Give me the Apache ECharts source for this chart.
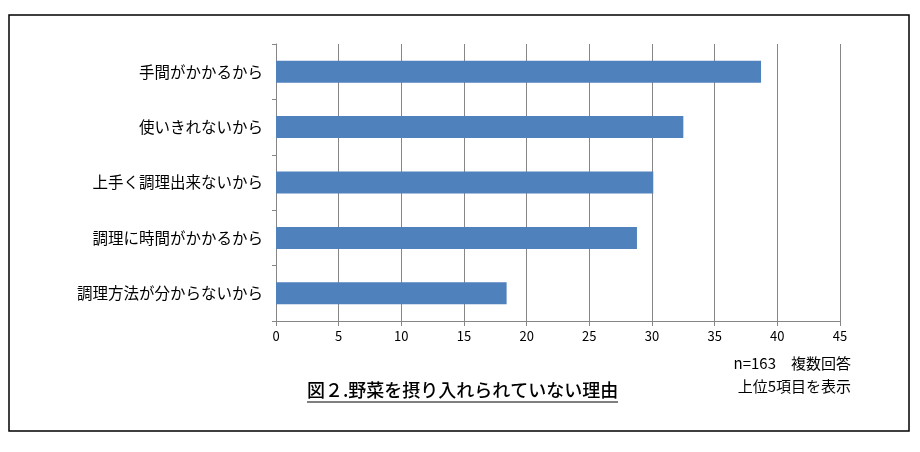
<!DOCTYPE html>
<html>
<head>
<meta charset="utf-8">
<script src="https://cdn.jsdelivr.net/npm/echarts@6/dist/echarts.min.js"></script>
<style>
html,body{margin:0;padding:0;background:#fff;}
#chart{width:920px;height:452px;}
</style>
</head>
<body>
<div id="chart"></div>
<script>
const categories = ['手間がかかるから','使いきれないから','上手く調理出来ないから','調理に時間がかかるから','調理方法が分からないから'];
const values = [38.7, 32.5, 30.1, 28.8, 18.4];
const xTicks = [0,5,10,15,20,25,30,35,40,45];
const titleText = '図２.野菜を摂り入れられていない理由';
const noteLines = ['n=163　複数回答','上位5項目を表示'];

const font = '"Noto Sans CJK JP", sans-serif';
const chart = echarts.init(document.getElementById('chart'), null, {renderer:'canvas'});
chart.setOption({
  animation:false,
  backgroundColor:'#fff',
  grid:{left:276, right:80, top:44, bottom:131, containLabel:false},
  xAxis:{
    type:'value', min:xTicks[0], max:xTicks[xTicks.length-1], interval:5,
    axisLine:{show:true, lineStyle:{color:'#868686', width:1}},
    axisTick:{show:true, length:5, lineStyle:{color:'#868686'}},
    axisLabel:{color:'#000', fontSize:13, fontFamily:font, margin:9},
    splitLine:{show:true, lineStyle:{color:'#868686', width:1}}
  },
  yAxis:{
    type:'category', data:categories, inverse:true,
    axisLine:{show:true, lineStyle:{color:'#868686', width:1}},
    axisTick:{show:true, length:4, lineStyle:{color:'#868686'}},
    axisLabel:{color:'#000', fontSize:15.5, fontFamily:font, margin:13}
  },
  series:[{
    type:'bar', data:values, barWidth:22,
    itemStyle:{color:'#4f81bd'}
  }],
  graphic:[
    {type:'rect', shape:{x:9, y:15, width:900, height:416}, style:{fill:null, stroke:'#000', lineWidth:1.5}, z:100},
    {type:'text', left:307, top:381, style:{text:titleText, font:'500 18px "Noto Sans CJK JP", sans-serif', fill:'#000'}},
    {type:'line', shape:{x1:307, y1:402, x2:618, y2:402}, style:{stroke:'#000', lineWidth:1.2}},
    {type:'text', right:69, top:356, style:{text:noteLines[0], font:'15px "Noto Sans CJK JP", sans-serif', fill:'#000', align:'right'}},
    {type:'text', right:69, top:379, style:{text:noteLines[1], font:'15px "Noto Sans CJK JP", sans-serif', fill:'#000', align:'right'}}
  ]
});
</script>
</body>
</html>
